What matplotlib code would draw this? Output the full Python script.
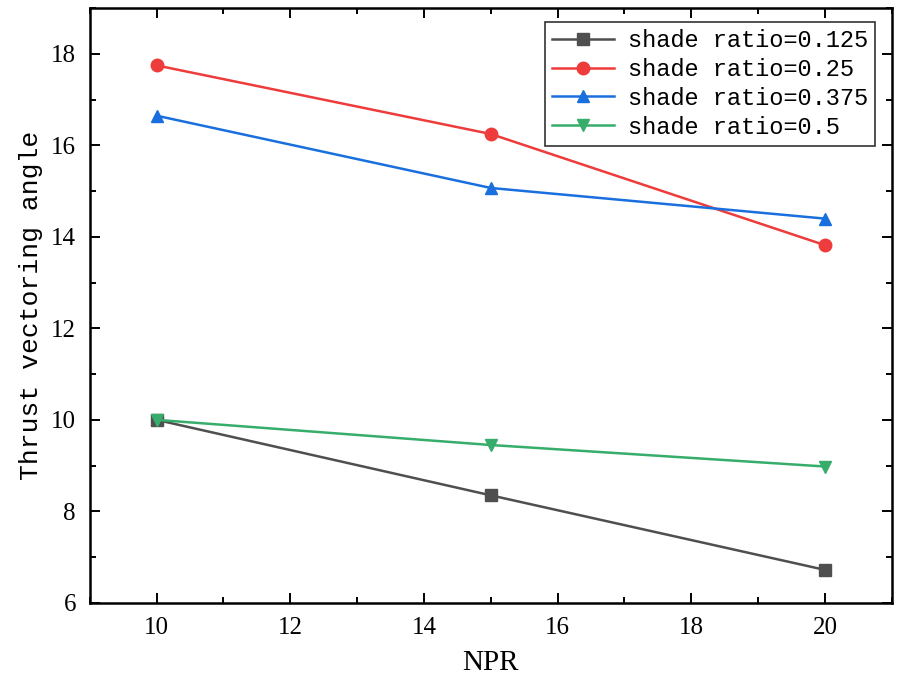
import numpy as np
import matplotlib
matplotlib.use("Agg")
import matplotlib.pyplot as plt
from matplotlib.ticker import MultipleLocator

npr = [10, 15, 20]
ratio_0125 = [10.0, 8.35, 6.72]
ratio_025 = [17.75, 16.25, 13.82]
ratio_0375 = [16.65, 15.07, 14.40]
ratio_05 = [10.0, 9.45, 8.98]

labels = ["shade ratio=0.125", "shade ratio=0.25",
          "shade ratio=0.375", "shade ratio=0.5"]
colors = ["#4f4f4f", "#ee3b3b", "#1a6fdf", "#37ad6b"]
markers = ["s", "o", "^", "v"]

plt.rcParams["font.family"] = "Liberation Serif"

fig = plt.figure(figsize=(8.98, 6.85), dpi=100)
ax = fig.add_axes([0.1, 0.12, 0.893, 0.868])

series = [ratio_0125, ratio_025, ratio_0375, ratio_05]
for y, lab, c, m in zip(series, labels, colors, markers):
    ax.plot(npr, y, color=c, marker=m, markersize=9, linewidth=1.8, label=lab)

ax.set_xlim(9, 21)
ax.set_ylim(6, 19)
ax.xaxis.set_major_locator(MultipleLocator(2))
ax.xaxis.set_minor_locator(MultipleLocator(1))
ax.yaxis.set_major_locator(MultipleLocator(2))
ax.yaxis.set_minor_locator(MultipleLocator(1))
ax.tick_params(which="both", direction="in", top=True, right=True, width=1.4)
ax.tick_params(which="major", length=7, labelsize=18, pad=10)
ax.tick_params(which="minor", length=4)
for sp in ax.spines.values():
    sp.set_linewidth(1.8)

ax.set_xlabel("NPR", fontsize=21, labelpad=8)
ax.set_ylabel("Thrust vectoring angle", family="Liberation Mono", fontsize=19, labelpad=6)

leg = ax.legend(loc="upper right", bbox_to_anchor=(0.985, 0.985),
                prop={"family": "Liberation Mono", "size": 17},
                fancybox=False, edgecolor="#333333", framealpha=1,
                handlelength=2.6, labelspacing=0.25, borderpad=0.3,
                handletextpad=0.6, borderaxespad=0.2)
leg.get_frame().set_linewidth(1.2)

plt.savefig("out.png", dpi=100)
